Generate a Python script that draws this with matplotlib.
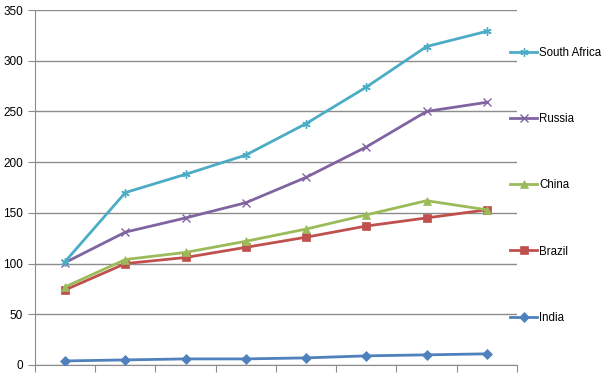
import matplotlib.pyplot as plt
from matplotlib.lines import Line2D

# Series data, 8 categories each
categories = list(range(1, 9))
india = [4, 5, 6, 6, 7, 9, 10, 11]
brazil = [74, 100, 106, 116, 126, 137, 145, 153]
china = [77, 104, 111, 122, 134, 148, 162, 153]
russia = [101, 131, 145, 160, 185, 215, 250, 259]
south_africa = [102, 170, 188, 207, 238, 274, 314, 329]

series = [
    ('India', india, '#4F81BD', 'D'),
    ('Brazil', brazil, '#C0504D', 's'),
    ('China', china, '#9BBB59', '^'),
    ('Russia', russia, '#8064A2', 'x'),
    ('South Africa', south_africa, '#4BACC6', (6, 2, 0)),
]

plt.rcParams['font.family'] = ['Liberation Sans', 'DejaVu Sans']

fig = plt.figure(figsize=(6.1, 3.75), dpi=100)
ax = fig.add_axes([0.0574, 0.0267, 0.79, 0.9466])

handles = []
for name, vals, color, marker in series:
    mew = 1.0 if marker in ('x', (6, 2, 0)) else 0.5
    ms = 5 if marker == 'D' else 6
    ax.plot(categories, vals, color=color, linewidth=2.0, marker=marker,
            markersize=ms, markeredgewidth=mew, markeredgecolor=color,
            markerfacecolor=color, zorder=3)
    handles.append(Line2D([0], [0], color=color, linewidth=2.0, marker=marker,
                          markersize=ms, markeredgewidth=mew,
                          markeredgecolor=color, markerfacecolor=color))

# y axis
ax.set_ylim(0, 350)
ax.set_yticks(range(0, 351, 50))
ax.yaxis.grid(True, color='#8c8c8c', linewidth=1.0)
ax.set_axisbelow(True)

# x axis: ticks at category boundaries, no labels
ax.set_xlim(0.5, 8.5)
ax.set_xticks([i + 0.5 for i in range(0, 9)])
ax.set_xticklabels([])

for side in ['top', 'right']:
    ax.spines[side].set_visible(False)
for side in ['left', 'bottom']:
    ax.spines[side].set_color('#8c8c8c')
ax.tick_params(axis='both', direction='out', length=5, color='#8c8c8c',
               labelsize=8.5, labelcolor='black')

# legend, top entry is the last series
leg = fig.legend(handles[::-1], [s[0] for s in series][::-1],
                 loc='upper left', bbox_to_anchor=(0.828, 0.887),
                 frameon=False, fontsize=8.3, labelspacing=4.7,
                 handlelength=2.4, handletextpad=0.15, borderaxespad=0)

plt.savefig('out.png', dpi=100)
